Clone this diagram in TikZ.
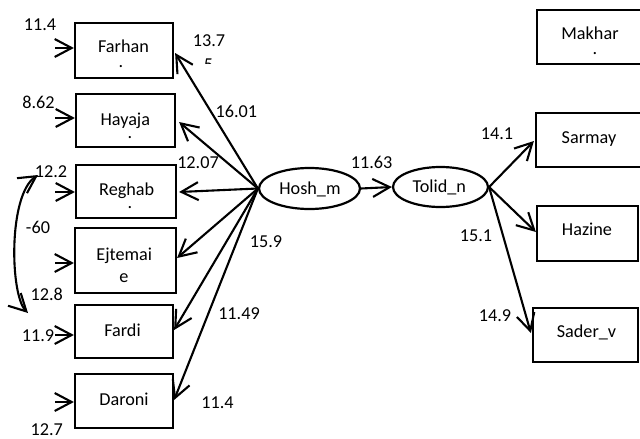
\documentclass[tikz,border=0pt]{standalone}
\usepackage{fontspec}
\setmainfont{Carlito}
\usetikzlibrary{arrows.meta,shapes.geometric,calc}
\begin{document}
\begin{tikzpicture}[x=1pt,y=-1pt,
  box/.style={draw, line width=2.2pt, rectangle, inner sep=0pt},
  oval/.style={draw, line width=2.2pt, ellipse, inner sep=0pt},
  lbl/.style={inner sep=0pt, font=\fontsize{18.2}{22}\selectfont},
  txt/.style={lbl, anchor=base},
  barb/.tip={Straight Barb[length=17pt,width=18pt]},
  arr/.style={line width=2.1pt, -barb},
  ]
\clip (0,0) rectangle (640,439);
% left boxes
\node[box, minimum width=98pt, minimum height=55pt] (farhan) at (124,50.5) {};
\node[box, minimum width=99pt, minimum height=53pt] (hayaja) at (125.5,120.5) {};
\node[box, minimum width=100pt, minimum height=53pt] (reghab) at (126,191.5) {};
\node[box, minimum width=101pt, minimum height=65pt] (ejtemaie) at (125.5,260.5) {};
\node[box, minimum width=98pt, minimum height=53pt] (fardi) at (124,331.5) {};
\node[box, minimum width=98pt, minimum height=54pt] (daroni) at (124,401) {};
% right boxes
\node[box, minimum width=106pt, minimum height=54pt] (makhar) at (590,37) {};
\node[box, minimum width=106pt, minimum height=54pt] (sarmay) at (589,140) {};
\node[box, minimum width=101pt, minimum height=55pt] (hazine) at (587.5,233.5) {};
\node[box, minimum width=105pt, minimum height=54pt] (saderv) at (585.5,335) {};
% ellipses
\node[oval, minimum width=101pt, minimum height=41pt] (hosh) at (309.5,188.5) {};
\node[oval, minimum width=95pt, minimum height=40pt] (tolid) at (440.5,187) {};
% box texts
\node[txt] (tfarhan) at (123.5,52.3) {Farhan};
\node[lbl] (dfarhan) at (121,66.5) {.};
\node[txt] (thayaja) at (125.3,125) {Hayaja};
\node[lbl] (dhayaja) at (130,137.5) {.};
\node[txt] (treghab) at (126.7,195) {Reghab};
\node[lbl] (dreghab) at (130,207.5) {.};
\node[txt] (tejt1) at (124.2,260) {Ejtemai};
\node[txt] (tejt2) at (124,282.3) {e};
\node[txt] (tfardi) at (122.5,336.7) {Fardi};
\node[txt] (tdaroni) at (124,405) {Daroni};
\node[txt] (tmakhar) at (590,39.3) {Makhar};
\node[lbl] (dmakhar) at (595,53.8) {.};
\node[txt] (tsarmay) at (589,143) {Sarmay};
\node[txt] (thazine) at (587,235) {Hazine};
\node[txt] (tsaderv) at (586.5,337.7) {Sader\_v};
\node[txt] (thosh) at (310,194) {Hosh\_m};
\node[txt] (ttolid) at (439.3,192.7) {Tolid\_n};
% error arrows
\coordinate (efarhan) at (55,48);
\coordinate (ehayaja) at (55,118);
\coordinate (ereghab) at (55,192);
\coordinate (eejt) at (55,263);
\coordinate (efardi) at (55,335);
\coordinate (edaroni) at (55,402);
\draw[arr] (efarhan) -- (farhan.west |- efarhan);
\draw[arr] (ehayaja) -- (hayaja.west |- ehayaja);
\draw[arr] (ereghab) -- (reghab.west |- ereghab);
\draw[arr] (eejt) -- (ejtemaie.west |- eejt);
\draw[arr] (efardi) -- (fardi.west |- efardi);
\draw[arr] (edaroni) -- (daroni.west |- edaroni);
% loadings from Hosh_m
\draw[arr] (hosh.west) -- ($(farhan.east)+(1,2.5)$);
\draw[arr] (hosh.west) -- ($(hayaja.east)+(3,1.5)$);
\draw[arr] (hosh.west) -- ($(reghab.east)+(2,0.5)$);
\draw[arr] (hosh.west) -- ($(ejtemaie.east)+(0,-2.5)$);
\draw[arr] (hosh.west) -- ($(fardi.east)+(0,-1.5)$);
\draw[arr] (hosh.west) -- ($(daroni.east)+(0,-1)$);
\draw[arr] (hosh.east) -- (tolid.west);
% from Tolid_n
\draw[arr] (tolid.east) -- ($(sarmay.west)+(-1,1)$);
\draw[arr] (tolid.east) -- ($(hazine.west)+(0,-1.5)$);
\draw[arr] (tolid.east) -- ($(saderv.west)+(-1,-2)$);
% covariance
\coordinate (ctop) at (38,175);
\coordinate (cbot) at (28,313);
\draw[line width=2.1pt, barb-barb] (cbot) .. controls (10,295) and (8,195) .. (ctop);
% numbers
\node[lbl] (n1) at (40,25) {11.4};
\node[lbl] (n2) at (38.5,102.5) {8.62};
\node[lbl] (n3) at (51,172) {12.2};
\node[lbl] (n4) at (38,227) {-60};
\node[lbl] (n5) at (46.7,294) {12.8};
\node[lbl] (n6) at (38,336) {11.9};
\node[lbl] (n7) at (46.7,429.5) {12.7};
\node[lbl] (n8) at (209,41) {13.7};
\begin{scope}
\clip (195,50) rectangle (225,63.5);
\node[lbl] (n8b) at (208.5,64.7) {5};
\end{scope}
\node[lbl] (n9) at (236.3,111) {16.01};
\node[lbl] (n10) at (198,162.5) {12.07};
\node[lbl] (n11) at (371.7,162.7) {11.63};
\node[lbl] (n12) at (266,241.5) {15.9};
\node[lbl] (n13) at (239,314) {11.49};
\node[lbl] (n14) at (217.5,402.5) {11.4};
\node[lbl] (n15) at (497,134) {14.1};
\node[lbl] (n16) at (476,236) {15.1};
\node[lbl] (n17) at (495,316) {14.9};
\end{tikzpicture}
\end{document}
